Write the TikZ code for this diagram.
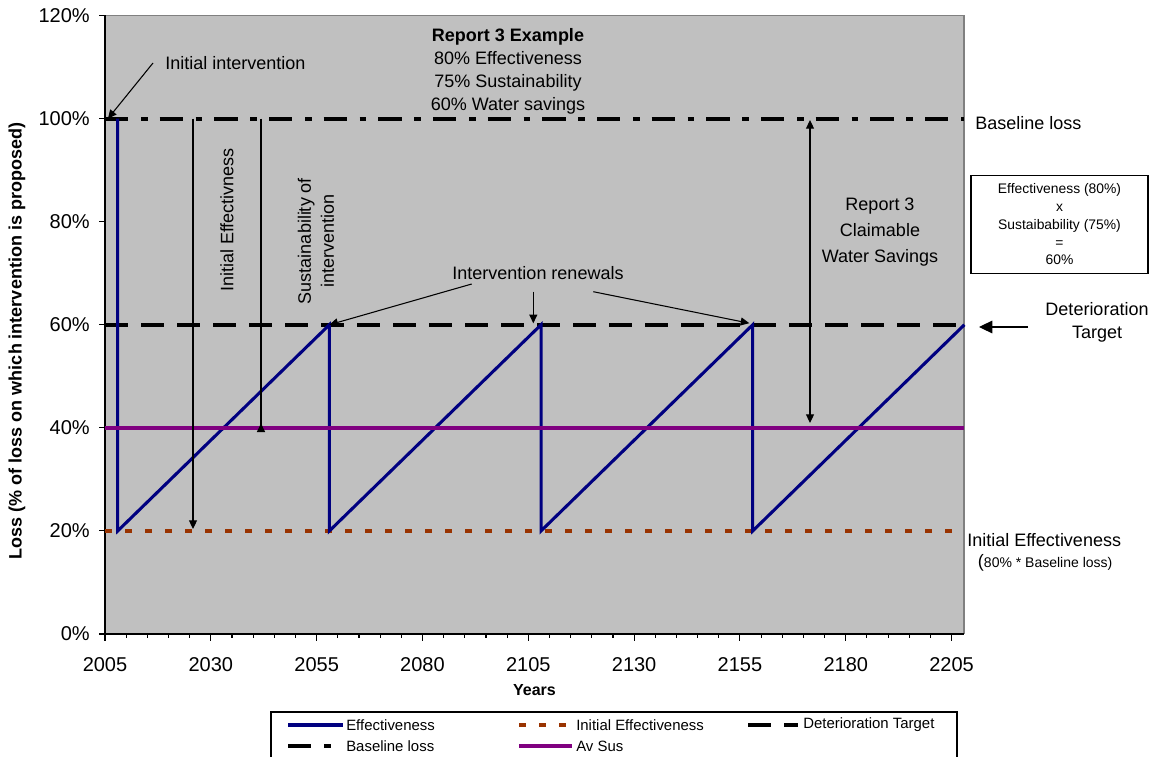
\documentclass[tikz,border=0pt]{standalone}
\usepackage{fontspec}
\setmainfont{Liberation Sans}
\usetikzlibrary{arrows.meta}
\definecolor{plotgray}{HTML}{C0C0C0}
\definecolor{effblue}{HTML}{000080}
\definecolor{ieorange}{HTML}{993300}
\definecolor{avpurple}{HTML}{800080}

\begin{document}
\begin{tikzpicture}[x=0.75pt,y=-0.75pt,
  note/.style={font=\fontsize{13.5}{17.3}\selectfont, align=center, inner sep=0pt},
  tick/.style={font=\fontsize{15}{18}\selectfont, inner sep=0pt},
  legtext/.style={font=\fontsize{11.2}{13}\selectfont, anchor=west, inner sep=0pt},
  pointer/.style={-{Triangle[length=6.5pt,width=6pt]}, line width=0.8pt},
  effline/.style={effblue, line width=2.3pt},
  ieline/.style={ieorange, line width=2.6pt, dash pattern=on 5pt off 10pt},
  detline/.style={black, line width=3pt, dash pattern=on 17pt off 10pt},
  baseloss/.style={black, line width=3pt, dash pattern=on 17.5pt off 9.5pt on 5pt off 9pt},
  susline/.style={avpurple, line width=2.6pt}]
\useasboundingbox (0,0) rectangle (1162,756);

\fill[plotgray] (105,15.5) rectangle (964,634);
\draw[gray, line width=1.2pt] (105,15.5) -- (964,15.5) -- (964,634);
\draw[line width=0.8pt] (105,15.5) -- (105,634) -- (964,634);
\foreach \p in {0,20,...,120} {
  \draw[line width=0.8pt] (99,{634-5.154*\p}) -- (105,{634-5.154*\p});
  \node[tick, anchor=east] (ytick\p) at (90,{634-5.154*\p}) {\p\%};
}
\foreach \k in {0,...,40} \draw[line width=0.8pt] ({105+21.165*\k},634) -- ++(0,4);
\foreach \k [evaluate=\k as \yr using int(2005+5*\k)] in {0,5,...,40} {
  \draw[line width=0.8pt] ({105+21.165*\k},634) -- ++(0,7);
  \node[tick] (xtick\yr) at ({105+21.165*\k},665) {\yr};
}
\node[font=\bfseries\fontsize{13.5}{16}\selectfont, rotate=90] (ytitle) at (17,341) {Loss (\% of loss on which intervention is proposed)};
\node[font=\bfseries\fontsize{12}{14}\selectfont] (xtitle) at (534.5,690) {Years};

\begin{scope}[shift={(105,634)}, x=3.175pt, y=3.8655pt]
  \draw[ieline] (0,20) -- (203,20);
  \draw[detline] (0,60) -- (203,60);
  \draw[baseloss] (0,100) -- (203,100);
  \draw[effline, line join=miter] (3,100) -- (3,20) -- (53,60) -- (53,20) -- (103,60) -- (103,20)
    -- (153,60) -- (153,20) -- (203,60);
  \draw[susline] (0,40) -- (203,40);
  \coordinate (corner) at (0.7,100);
  \coordinate (peak1) at (53,60);
  \coordinate (peak3) at (152.2,60.3);
\end{scope}

\node[note, anchor=west] (initint) at (165,62.7) {Initial intervention};
\coordinate (initail) at (153,63);
\draw[pointer] (initail) -- (corner);

\coordinate (ietop) at (193,118.6);
\coordinate (iebot) at (193,529);
\draw[pointer] (ietop) -- (iebot);
\node[note, rotate=90] (ietext) at (227,220) {Initial Effectivness};

\coordinate (sustop) at (261,118.6);
\coordinate (susbot) at (261,432);
\draw[line width=0.8pt, -{Triangle[length=6.5pt,width=6pt,reversed]}] (sustop) -- (susbot);
\node[note, rotate=90] (sustext) at (316,241) {Sustainability of\\intervention};

\node[note] (report) at (508,71.5) {\textbf{Report 3 Example}\\80\% Effectiveness\\75\% Sustainability\\60\% Water savings};

\node[note] (renew) at (538,272.7) {Intervention renewals};
\coordinate (renew1) at (471.7,284);
\coordinate (renew2) at (533.3,291.7);
\coordinate (renew3) at (593.3,291.7);
\coordinate (peak2) at (533.3,323.3);
\draw[pointer] (renew1) -- (peak1);
\draw[pointer] (renew2) -- (peak2);
\draw[pointer] (renew3) -- (peak3);

\coordinate (claimtop) at (810,120);
\coordinate (claimbot) at (810,423);
\draw[{Triangle[length=6.5pt,width=6pt]}-{Triangle[length=6.5pt,width=6pt]}, line width=0.8pt] (claimtop) -- (claimbot);
\node[note, font=\fontsize{13.5}{19.5}\selectfont] (claim) at (880,232) {Report 3\\Claimable\\Water Savings};

\node[note, anchor=west] (blabel) at (975,123) {Baseline loss};
\node[draw, line width=0.8pt, align=center, inner sep=0pt, minimum width=132.75pt, minimum height=73.2pt,
  font=\fontsize{10.4}{13.3}\selectfont] (formula) at (1059.5,224.5)
  {Effectiveness (80\%)\\x\\Sustaibability (75\%)\\=\\60\%};

\node[note] (dtlabel) at (1097,322) {Deterioration\\Target};
\coordinate (dttail) at (1028,327);
\coordinate (dthead) at (979,327);
\draw[-{Triangle[length=10pt,width=9.5pt]}, line width=0.8pt] (dttail) -- (dthead);

\node[note, anchor=west] (ielabel) at (967,540) {Initial Effectiveness};
\node[anchor=west, inner sep=0pt] (ienote) at (977.7,563.3)
  {{\fontsize{13.5}{16}\selectfont(}{\fontsize{10.5}{12}\selectfont 80\% * Baseline loss)}};

\draw[line width=0.8pt] (271,760) -- (271,712) -- (957,712) -- (957,760);
\draw[effline] (288,725) -- (343,725);
\node[legtext] (legeff) at (346,725) {Effectiveness};
\draw[ieline] (519,725) -- (567,725);
\node[legtext] (legie) at (576,725) {Initial Effectiveness};
\draw[detline] (748,725) -- (798,725);
\node[legtext] (legdet) at (803,725) {Deterioration Target};
\draw[baseloss] (288,746) -- (331,746);
\node[legtext] (legbase) at (346,746) {Baseline loss};
\draw[susline] (519,746) -- (572,746);
\node[legtext] (legsus) at (576,746) {Av Sus};
\end{tikzpicture}
\end{document}
